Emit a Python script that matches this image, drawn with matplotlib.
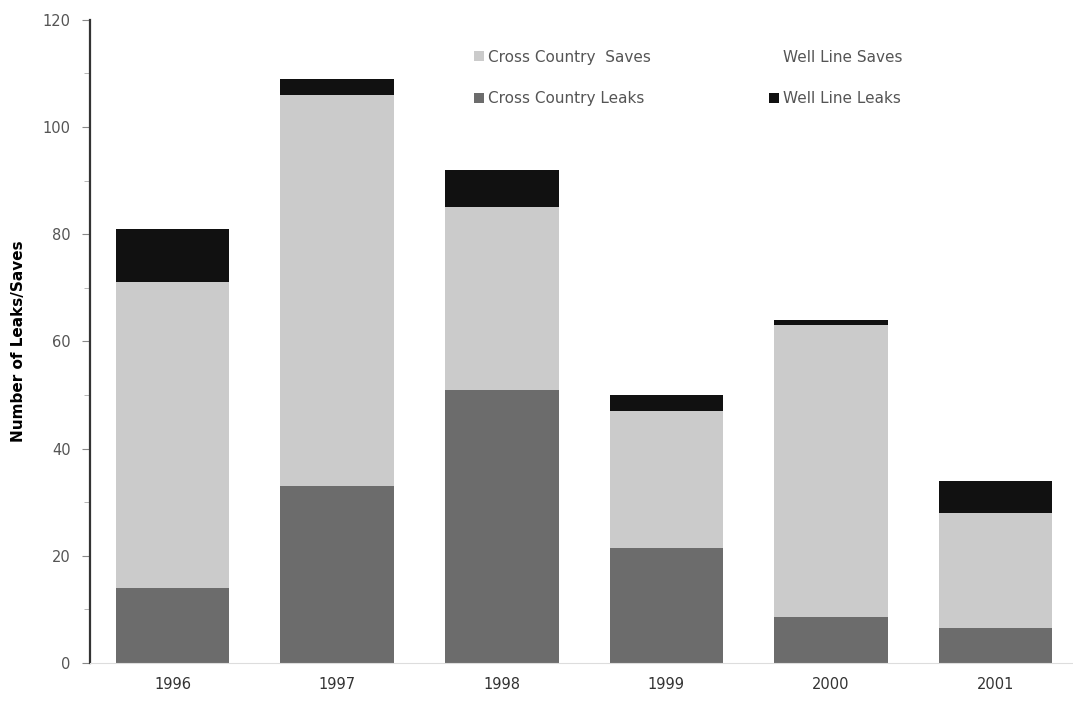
import matplotlib
matplotlib.use('Agg')
import matplotlib.pyplot as plt
import numpy as np

# Data
years = ['1996', '1997', '1998', '1999', '2000', '2001']
cc_leaks = [14, 33, 51, 21.5, 8.5, 6.5]
cc_saves = [57, 73, 34, 25.5, 54.5, 21.5]
wl_saves = [0, 0, 0, 0, 0, 0]
wl_leaks = [10, 3, 7, 3, 1, 6]

plt.rcParams['font.family'] = ['DejaVu Sans']

fig = plt.figure(figsize=(10.73, 7.06), dpi=100)
ax = fig.add_axes([0.084, 0.061, 0.916, 0.911])

x = np.arange(len(years))
w = 0.69
bottom = np.zeros(len(years))
series = [
    (cc_leaks, '#6c6c6c', 'Cross Country Leaks'),
    (cc_saves, '#cbcbcb', 'Cross Country  Saves'),
    (wl_saves, '#ffffff', 'Well Line Saves'),
    (wl_leaks, '#111111', 'Well Line Leaks'),
]
bars = {}
for vals, col, name in series:
    bars[name] = ax.bar(x, vals, w, bottom=bottom, color=col, label=name)
    bottom += np.array(vals)

ax.set_xlim(-0.5, 5.47)
ax.set_ylim(0, 120)
ax.set_yticks(range(0, 121, 20))
ax.set_yticks(range(10, 120, 20), minor=True)
ax.set_xticks(x)
ax.set_xticklabels(years)

for s in ['top', 'right']:
    ax.spines[s].set_visible(False)
ax.spines['left'].set_color('#333333')
ax.spines['left'].set_linewidth(1.6)
ax.spines['bottom'].set_color('#dddddd')
ax.tick_params(axis='y', which='major', length=6, color='#888888', labelsize=10.5,
               labelcolor='#555555', pad=8)
ax.tick_params(axis='y', which='minor', length=4, color='#aaaaaa')
ax.tick_params(axis='x', length=0, labelsize=10.5, labelcolor='#333333', pad=10)

ax.set_ylabel('Number of Leaks/Saves', fontsize=11, fontweight='bold', labelpad=12)

names = ['Cross Country  Saves', 'Cross Country Leaks', 'Well Line Saves', 'Well Line Leaks']
leg = ax.legend([bars[n] for n in names], names, ncol=2, frameon=False,
                loc='upper left', bbox_to_anchor=(0.377, 0.975), fontsize=11,
                handlelength=0.6, handleheight=0.6, handletextpad=0.3,
                columnspacing=7.75, labelspacing=1.75)
for t in leg.get_texts():
    t.set_color('#555555')

fig.savefig('out.png', dpi=100, facecolor='white')
